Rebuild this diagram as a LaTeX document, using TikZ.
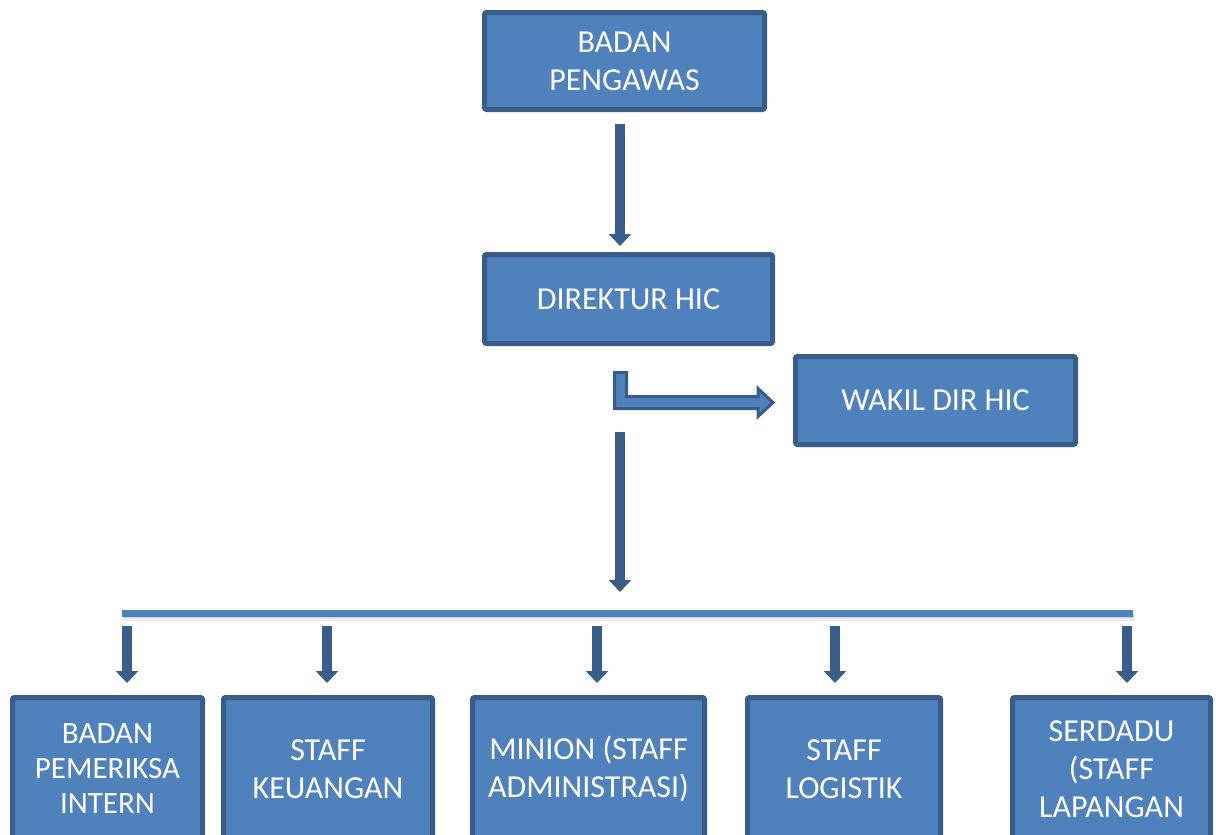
\documentclass[tikz,border=0pt]{standalone}
\usepackage{fontspec}
\setmainfont{Carlito}
\usetikzlibrary{arrows.meta,calc}
\definecolor{boxfill}{HTML}{4F81BD}
\definecolor{boxline}{HTML}{385D8A}
\definecolor{arrowblue}{HTML}{3A5E8C}
\begin{document}
\begin{tikzpicture}[x=1pt, y=-1pt,
    unit/.style={draw=boxline, fill=boxfill, line width=5pt, rounded corners=2pt,
      text=white, align=center, inner sep=0pt, font=\fontsize{32}{38}\selectfont},
    down/.style={draw=arrowblue, line width=10pt, -{Triangle[width=22pt, length=12pt]}},
    bent/.style={draw=boxline, fill=boxfill, line width=3pt},
  ]
  \useasboundingbox (0,0) rectangle (1216,835);
  %
  \node[unit, minimum width=280pt, minimum height=97pt] (pengawas) at (624.5,61) {BADAN\\PENGAWAS}; % top
  \node[unit, minimum width=288pt, minimum height=89pt] (direktur) at (628.5,299) {DIREKTUR HIC};
  \node[unit, minimum width=280pt, minimum height=88pt] (wakil) at (935.5,400.5) {WAKIL DIR HIC};
  %
  \node[unit, minimum width=190pt, minimum height=143pt, font=\fontsize{31}{35}\selectfont] (intern) at (107.5,769) {BADAN\\PEMERIKSA\\INTERN}; % bottom row
  \node[unit, minimum width=209pt, minimum height=143pt] (keuangan) at (328,769) {STAFF\\KEUANGAN};
  \node[unit, minimum width=232pt, minimum height=143pt] (admin) at (588.5,769) {MINION (STAFF\\ADMINISTRASI)};
  \node[unit, minimum width=193pt, minimum height=143pt] (logistik) at (844,769) {STAFF\\LOGISTIK};
  \node[unit, minimum width=198pt, minimum height=143pt] (lapangan) at (1111.5,769) {SERDADU\\(STAFF\\LAPANGAN};
  %
  \draw[down] ($(pengawas.south)+(-4.5,12)$) -- ($(direktur.north)+(-8.5,-6)$);
  %
  \filldraw[bent] ($(direktur.south)+(-14,26.5)$) -- ++(12,0) -- ++(0,24) -- ++(131.5,0) -- ++(0,-8)
    -- ($(wakil.west)+(-20,2)$) -- ++(-15,14) -- ++(0,-8) -- ++(-143.5,0) -- cycle; % to wakil
  %
  \coordinate (barL) at (122,613);
  \coordinate (barR) at (1133,613);
  \coordinate (hub) at (620,613);
  \draw[down] ($(direktur.south)+(-8.5,86)$) -- ($(hub)+(0,-21)$);
  %
  \draw[black, opacity=.08, line width=7pt] ($(barL)+(2,4)$) -- ($(barR)+(2,4)$); % bar shadow
  \draw[black, opacity=.12, line width=4pt] ($(barL)+(1,3)$) -- ($(barR)+(1,3)$);
  \draw[boxfill, line width=7pt] (barL) -- (barR);
  %
  \foreach \n/\x in {intern/127, keuangan/327, admin/597, logistik/835, lapangan/1127} {
    \coordinate (drop) at (\x,613);
    \draw[down] ($(drop)+(0,13)$) -- ($(drop |- \n.north)+(0,-12)$);
  }
\end{tikzpicture}
\end{document}
